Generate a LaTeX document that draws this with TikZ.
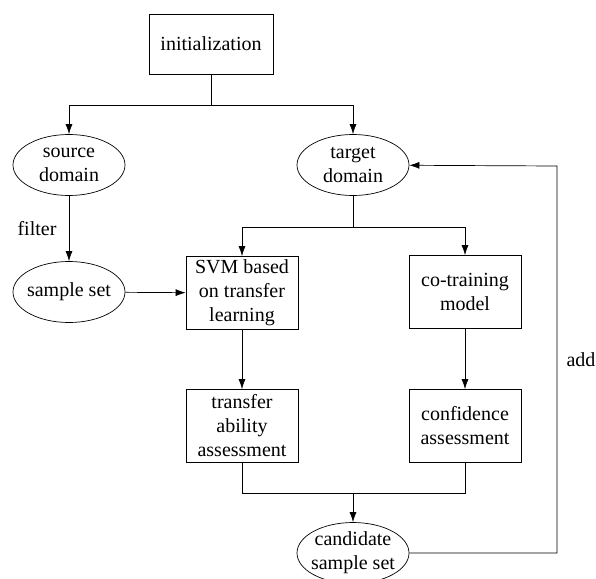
\documentclass[tikz,border=0pt]{standalone}
\usepackage{fontspec}
\setmainfont{Liberation Serif}
\usetikzlibrary{shapes.geometric,arrows.meta}

\begin{document}
\begin{tikzpicture}[x=1pt, y=-1pt, line width=0.7pt, >={Latex[length=10pt,width=7pt]},
  every node/.style={font=\fontsize{20}{24}\selectfont},
  stepbox/.style={draw, rectangle, align=center, inner sep=0pt,
    minimum width=112pt, minimum height=73pt},
  oval/.style={draw, ellipse, align=center, inner xsep=-14pt, inner ysep=-8pt,
    minimum width=112pt, minimum height=61pt}]
  \useasboundingbox (0,0) rectangle (596,578);
  \node[draw, minimum width=124pt, minimum height=60pt] (init) at (211,44) {initialization};
  \node[oval] (source) at (69,165) {source\\domain};
  \node[oval] (target) at (353,165) {target\\domain};
  \node[oval] (sample) at (69,292) {sample set};
  \node[stepbox] (svm) at (242,293) {SVM based\\on transfer\\learning};
  \node[stepbox] (cotrain) at (465,292) {co-training\\model};
  \node[stepbox] (transfer) at (242,426) {transfer\\ability\\assessment};
  \node[stepbox] (conf) at (465,426) {confidence\\assessment};
  \node[oval] (cand) at (353,553) {candidate\\sample set};
  \node (filter) at (37,229) {filter};
  \node (add) at (581,360) {add};
  \coordinate (split1) at (211,105);
  \coordinate (split2) at (353,227);
  \coordinate (merge) at (353,493);
  \coordinate (back1) at (557,553);
  \coordinate (back2) at (557,166);
  \draw (init) -- (split1);
  \draw[->] (split1) -| (source);
  \draw[->] (split1) -| (target);
  \draw[->] (source) -- (sample);
  \draw[->] (sample) -- (svm);
  \draw (target) -- (split2);
  \draw[->] (split2) -| (svm);
  \draw[->] (split2) -| (cotrain);
  \draw[->] (svm) -- (transfer);
  \draw[->] (cotrain) -- (conf);
  \draw (transfer) |- (merge);
  \draw (conf) |- (merge);
  \draw[->] (merge) -- (cand);
  \draw[->] (cand) -- (back1) -- (back2) -- (target);
\end{tikzpicture}
\end{document}
